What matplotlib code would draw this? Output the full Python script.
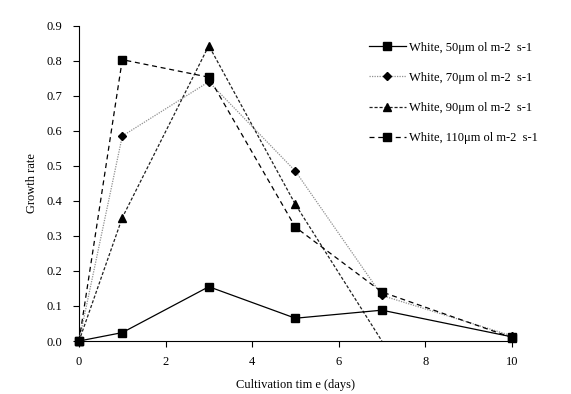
import matplotlib
matplotlib.use("Agg")
import matplotlib.pyplot as plt

days = [0, 1, 3, 5, 7, 10]
w50 = [0.0, 0.024, 0.155, 0.065, 0.088, 0.012]
w70 = [0.0, 0.585, 0.740, 0.485, 0.130, 0.015]
days90 = [0, 1, 3, 5, 7]
w90 = [0.0, 0.352, 0.843, 0.390, 0.0]
w110 = [0.0, 0.803, 0.753, 0.325, 0.140, 0.010]
labels = ["White, 50\u03bcm ol m-2  s-1", "White, 70\u03bcm ol m-2  s-1",
          "White, 90\u03bcm ol m-2  s-1", "White, 110\u03bcm ol m-2  s-1"]

plt.rcParams['font.family'] = ['Liberation Serif', 'DejaVu Serif']
fs = 9

fig = plt.figure(figsize=(5.71, 3.94), dpi=100)
ax = fig.add_axes([0.1384, 0.1345, 0.7577, 0.8003])

ax.plot(days, w50, color='black', lw=0.9, ls='-', marker='s', ms=5.5, label=labels[0], clip_on=False, zorder=5)
ax.plot(days, w70, color='#909090', lw=0.9, ls=(0, (1, 1)), marker='D', ms=4.5,
        mfc='black', mec='black', label=labels[1], clip_on=False, zorder=4)
ax.plot(days90, w90, color='#202020', lw=0.9, ls=(0, (2.5, 1.5)), marker='^', ms=6,
        mfc='black', mec='black', markevery=[0, 1, 2, 3], label=labels[2], clip_on=False, zorder=4)
ax.plot(days, w110, color='black', lw=0.9, ls=(0, (4, 3)), marker='s', ms=5.5,
        label=labels[3], clip_on=False, zorder=4)

ax.set_xlim(0, 10)
ax.set_ylim(0, 0.9)
ax.set_xticks([0, 2, 4, 6, 8, 10])
ax.set_yticks([i / 10 for i in range(10)])
ax.set_yticklabels([f"{i/10:.1f}" for i in range(10)])
ax.spines['top'].set_visible(False)
ax.spines['right'].set_visible(False)
ax.tick_params(direction='out', length=4, width=0.8, labelsize=fs)
ax.tick_params(axis='y', pad=8)
ax.tick_params(axis='x', pad=7)
ax.set_xlabel("Cultivation tim e (days)", fontsize=fs, labelpad=8)
ax.set_ylabel("Growth rate", fontsize=fs, labelpad=6)

leg = ax.legend(loc='upper left', bbox_to_anchor=(0.645, 0.985), frameon=False, fontsize=fs,
                handlelength=2.9, labelspacing=1.45, handletextpad=0.25)

fig.savefig("out.png", dpi=100)
